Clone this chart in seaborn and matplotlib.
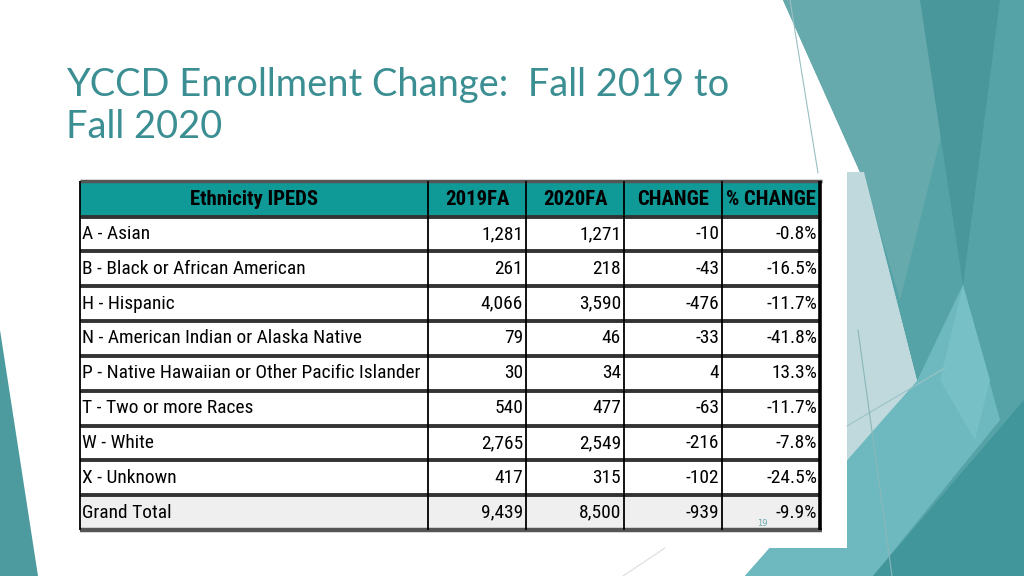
import numpy as np
import matplotlib
matplotlib.use("Agg")
import matplotlib.pyplot as plt
from matplotlib.colors import ListedColormap
from matplotlib import font_manager
import seaborn as sns

# ---------------- data ----------------
title_lines = ["YCCD Enrollment Change:  Fall 2019 to", "Fall 2020"]
headers = ["Ethnicity IPEDS", "2019FA", "2020FA", "CHANGE", "% CHANGE"]
ethnicity = ["A - Asian", "B - Black or African American", "H - Hispanic",
             "N - American Indian or Alaska Native",
             "P - Native Hawaiian or Other Pacific Islander",
             "T - Two or more Races", "W - White", "X - Unknown", "Grand Total"]
fa2019 = [1281, 261, 4066, 79, 30, 540, 2765, 417, 9439]
fa2020 = [1271, 218, 3590, 46, 34, 477, 2549, 315, 8500]
change = [-10, -43, -476, -33, 4, -63, -216, -102, -939]
pct_change = [-0.8, -16.5, -11.7, -41.8, 13.3, -11.7, -7.8, -24.5, -9.9]
page_number = "19"

# ---------------- setup ----------------
sns.set_theme(style="white")
flist = font_manager.fontManager.ttflist
names = {f.name for f in flist}


def find_condensed(weight_bold):
    cands = []
    for f in flist:
        low = (f.name + " " + f.fname).lower()
        if "serif" in low.replace("sans-serif", "") or "mono" in low:
            continue
        cond = ("condensed" in str(f.stretch) or "narrow" in low or "condensed" in low)
        if not cond:
            continue
        w = f.weight
        try:
            w = int(w)
        except (TypeError, ValueError):
            w = 700 if str(w) in ("bold", "heavy", "black") else 400
        isbold = w >= 600
        if isbold != weight_bold:
            continue
        if "oblique" in low or "italic" in low or f.style != "normal":
            continue
        score = 0
        if "liberation" in low or "arial" in low:
            score += 5
        if "roboto" in low:
            score += 4
        if "dejavu" in low:
            score += 2
        if "semi" in low or "extra" in low or "ultra" in low:
            score -= 1
        if "light" in low or "thin" in low or "medium" in low:
            score -= 2
        cands.append((score, f.fname))
    if cands:
        cands.sort(reverse=True)
        return font_manager.FontProperties(fname=cands[0][1])
    base = "Liberation Sans" if "Liberation Sans" in names else "DejaVu Sans"
    return font_manager.FontProperties(family=base,
                                       weight="bold" if weight_bold else "normal")


fp_body = find_condensed(False)
fp_bold = find_condensed(True)
title_font = "Lato" if "Lato" in names else "DejaVu Sans"

W, H = 1024, 576
fig = plt.figure(figsize=(W / 100, H / 100), dpi=100)
fig.patch.set_facecolor("white")
renderer = fig.canvas.get_renderer()


def fit_size(text, target_px, fp, base=20):
    p = fp.copy()
    p.set_size(base)
    t = fig.text(0, 0, text, fontproperties=p)
    w = t.get_window_extent(renderer=renderer).width
    t.remove()
    return base * target_px / w


def fit_family(text, target_px, family, base=20):
    t = fig.text(0, 0, text, fontsize=base, family=family)
    w = t.get_window_extent(renderer=renderer).width
    t.remove()
    return base * target_px / w


def sized(fp, size):
    p = fp.copy()
    p.set_size(size)
    return p


def fax(x0, y0, x1, y1):
    """axes placed in pixel box (y downward)"""
    return fig.add_axes([x0 / W, 1 - y1 / H, (x1 - x0) / W, (y1 - y0) / H])


# ---------------- background decoration ----------------
ax_bg = fax(0, 0, W, H)
ax_bg.set_xlim(0, W)
ax_bg.set_ylim(H, 0)
ax_bg.axis("off")
ax_bg.set_zorder(0)

polys = [
    ([(783, 0), (1024, 0), (1024, 576), (745, 576), (917, 381), (868, 190)], "#56A3A7"),
    ([(783, 0), (920, 0), (945, 120), (900, 300), (868, 190)], "#67AAAD"),
    ([(920, 0), (1000, 0), (963, 285)], "#4A979B"),
    ([(847, 172), (864, 172), (917, 381), (847, 463)], "#BFD9DC"),
    ([(745, 576), (917, 381), (963, 285), (1000, 420), (873, 576)], "#6EB9BF"),
    ([(940, 380), (963, 285), (990, 380), (975, 440)], "#76C0C6"),
    ([(873, 576), (1024, 400), (1024, 576)], "#40969A"),
    ([(0, 330), (0, 576), (38, 576)], "#4E9B9F"),
]
for pts, col in polys:
    xs, ys = zip(*pts)
    ax_bg.fill(xs, ys, color=col, lw=0)
for (x0, y0, x1, y1), col in [((790, 0, 818, 173), "#9BBFC1"),
                              ((847, 426, 945, 368), "#9BC3C6"),
                              ((858, 330, 892, 576), "#8AB7BA"),
                              ((623, 576, 665, 548), "#DDDDDD")]:
    ax_bg.plot([x0, x1], [y0, y1], color=col, lw=0.8)

# white panel behind the table
ax_bg.fill([60, 847, 847, 60], [172, 172, 548, 548], color="white", lw=0)

# title
tsize = fit_family(title_lines[0], 666, title_font)
ax_bg.text(66, 96, title_lines[0], fontsize=tsize, family=title_font,
           color="#3B8F93", va="baseline")
ax_bg.text(66, 138, title_lines[1], fontsize=tsize, family=title_font,
           color="#3B8F93", va="baseline")

# ---------------- table ----------------
TL, TR = 80, 820
TOP, HB, BOT = 181, 216.5, 530
COL1 = 428
n = len(ethnicity)
row_type = np.array([[0]] * (n - 1) + [[1]])
cmap = ListedColormap(["white", "#EFEFEF"])

body_size = min(fit_size(ethnicity[4], 338, fp_body), 20)
head_size = min(fit_size(headers[0], 128, fp_bold), 20)
fpb = sized(fp_body, body_size)
fph = sized(fp_bold, head_size)

# label column
ax_lab = fax(TL, HB, COL1, BOT)
ax_lab.set_zorder(1)
sns.heatmap(row_type, ax=ax_lab, cmap=cmap, vmin=0, vmax=1, cbar=False,
            annot=np.array(ethnicity).reshape(-1, 1), fmt="",
            annot_kws=dict(color="black"),
            xticklabels=False, yticklabels=False)
for t in ax_lab.texts:
    t.set_ha("left")
    t.set_x(0.005)
    t.set_color("black")
    t.set_fontproperties(fpb)

# numeric block
num_annot = np.array([[f"{a:,}", f"{b:,}", f"{c:,}", f"{p:.1f}%"]
                      for a, b, c, p in zip(fa2019, fa2020, change, pct_change)])
num_bg = np.repeat(row_type, 4, axis=1)
ax_num = fax(COL1, HB, TR, BOT)
ax_num.set_zorder(1)
sns.heatmap(num_bg, ax=ax_num, cmap=cmap, vmin=0, vmax=1, cbar=False,
            annot=num_annot, fmt="",
            annot_kws=dict(color="black"),
            xticklabels=False, yticklabels=False)
for t in ax_num.texts:
    x, y = t.get_position()
    t.set_ha("right")
    t.set_x(np.floor(x) + 0.97)
    t.set_color("black")
    t.set_fontproperties(fpb)

# overlay: header, grid lines
ax_top = fax(0, 0, W, H)
ax_top.set_xlim(0, W)
ax_top.set_ylim(H, 0)
ax_top.axis("off")
ax_top.set_zorder(2)
ax_top.patch.set_visible(False)

ax_top.fill([TL, TR, TR, TL], [TOP, TOP, HB, HB], color="#0F9A98", lw=0)
num_w = (TR - COL1) / 4
col_edges = [TL, COL1] + [COL1 + num_w * k for k in range(1, 5)]
for k, h in enumerate(headers):
    cx = (col_edges[k] + col_edges[k + 1]) / 2
    ax_top.text(cx, (TOP + HB) / 2 + 1, h, fontproperties=fph,
                ha="center", va="center", color="black")

row_h = (BOT - HB) / n
for i in range(n):
    y = HB + i * row_h
    ax_top.plot([TL, TR], [y, y], color="#333333", lw=2.8, solid_capstyle="butt")
ax_top.plot([TL, TR + 1.5], [TOP, TOP], color="#555555", lw=2.5, solid_capstyle="butt")
ax_top.plot([TL, TR + 2], [BOT, BOT], color="#555555", lw=3.2, solid_capstyle="butt")
for k, x in enumerate(col_edges):
    lw = 2.6 if k == len(col_edges) - 1 else 1.3
    ax_top.plot([x, x], [TOP, BOT], color="black", lw=lw, solid_capstyle="butt")

ax_top.text(762, 523, page_number, fontsize=6, color="#6AA7AA",
            family="DejaVu Sans", ha="center", va="center")

fig.savefig("out.png", dpi=100, facecolor="white")
